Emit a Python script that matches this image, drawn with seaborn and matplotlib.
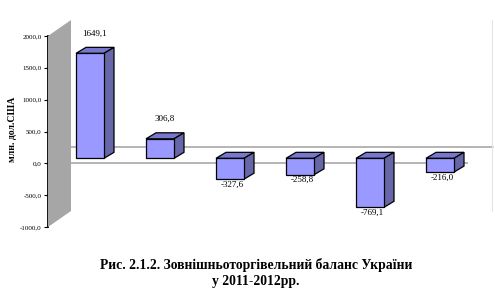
import matplotlib
matplotlib.use("Agg")
import matplotlib.pyplot as plt
import seaborn as sns
import pandas as pd
from matplotlib.patches import Polygon

periods = ["1", "2", "3", "4", "5", "6"]
values = [1649.1, 306.8, -327.6, -258.8, -769.1, -216.0]
value_labels = ["1649,1", "306,8", "-327,6", "-258,8", "-769,1", "-216,0"]
yticks = [-1000, -500, 0, 500, 1000, 1500, 2000]
ytick_labels = ["-1000,0", "-500,0", "0,0", "500,0", "1000,0", "1500,0", "2000,0"]
ylabel = "млн. дол.США"
caption = "Рис. 2.1.2. Зовнішньоторгівельний баланс України\nу 2011-2012рр."

sns.set_theme(style="white")
plt.rcParams["font.family"] = ["Liberation Serif", "DejaVu Serif"]
plt.rcParams["text.color"] = "black"
plt.rcParams["ytick.color"] = "black"
plt.rcParams["axes.labelcolor"] = "black"

W, H = 495, 300
fig = plt.figure(figsize=(W / 100, H / 100), dpi=100)
fig.patch.set_facecolor("white")

def fr(x0, y0, x1, y1):
    return [x0 / W, 1 - y1 / H, (x1 - x0) / W, (y1 - y0) / H]

def fp(x, y):
    return (x / W, 1 - y / H)

# front plane axes (y axis, ticks, front zero line)
ax_wall = fig.add_axes(fr(48, 36, 468, 227))
ax_wall.set_ylim(-1000, 2000)
ax_wall.set_xlim(0, 1)
ax_wall.patch.set_alpha(0)
for s in ["top", "right", "bottom"]:
    ax_wall.spines[s].set_visible(False)
ax_wall.spines["left"].set_color("black")
ax_wall.spines["left"].set_linewidth(1.3)
ax_wall.set_xticks([])
ax_wall.set_yticks(yticks)
ax_wall.set_yticklabels(ytick_labels, fontsize=5)
ax_wall.tick_params(axis="y", direction="out", length=3, width=0.8, pad=1.5, colors="black", left=True)
ax_wall.axhline(0, color="#a0a0a0", lw=1.1, zorder=1)

fig.text(12.5 / W, 1 - 129 / H, ylabel, rotation=90, ha="center", va="center",
         fontsize=7, fontweight="bold", color="black")

# gray side wall
wall = Polygon([fp(48, 36), fp(71, 20), fp(71, 211), fp(48, 227)], closed=True,
               facecolor="#a6a6a6", edgecolor="none", transform=fig.transFigure, zorder=0)
fig.patches.append(wall)
fig.add_artist(plt.Line2D([71 / W, 493 / W], [1 - 147 / H, 1 - 147 / H], color="#a0a0a0", lw=1.1,
                          transform=fig.transFigure, zorder=0))
fig.add_artist(plt.Line2D([492 / W, 492 / W], [1 - 20 / H, 1 - 211 / H], color="#e6e6e6", lw=0.8,
                          transform=fig.transFigure, zorder=0))

# bars axes (plane shifted back: zero at pixel 158)
ax = fig.add_axes(fr(55, 31, 475, 222))
df = pd.DataFrame({"period": periods, "value": values})
sns.barplot(data=df, x="period", y="value", ax=ax, color="#9999ff", saturation=1,
            width=0.4, edgecolor="black", linewidth=0.9, zorder=3)
ax.set_xlim(-0.5, 5.5)
ax.set_ylim(-1000, 2000)
ax.axis("off")
ax.patch.set_alpha(0)

dx = 10 / 70.0
dy = 6 * 3000 / 191.0
for i, p in enumerate(ax.patches):
    x0 = p.get_x()
    x1 = x0 + p.get_width()
    y_a = p.get_y()
    y_b = y_a + p.get_height()
    top = max(y_a, y_b)
    bot = min(y_a, y_b)
    topface = Polygon([(x0, top), (x1, top), (x1 + dx, top + dy), (x0 + dx, top + dy)],
                      closed=True, facecolor="#7777cc", edgecolor="black", lw=0.9, zorder=2)
    side = Polygon([(x1, bot), (x1, top), (x1 + dx, top + dy), (x1 + dx, bot + dy)],
                   closed=True, facecolor="#6666a8", edgecolor="black", lw=0.9, zorder=2)
    ax.add_patch(topface)
    ax.add_patch(side)
    cx = x0 + p.get_width() / 2
    if values[i] >= 0:
        ax.annotate(value_labels[i], xy=(cx + dx / 2, top + dy), xytext=(0, 7),
                    textcoords="offset points", ha="center", va="bottom", fontsize=6.5, color="black")
    else:
        ax.annotate(value_labels[i], xy=(cx + 0.03, bot), xytext=(0, -1),
                    textcoords="offset points", ha="center", va="top", fontsize=6.5, color="black")

fig.text(256 / W, 1 - 273 / H, caption, ha="center", va="center", fontsize=9.8,
         fontweight="bold", linespacing=1.35, color="black")

fig.savefig("out.png", dpi=100, facecolor="white")
